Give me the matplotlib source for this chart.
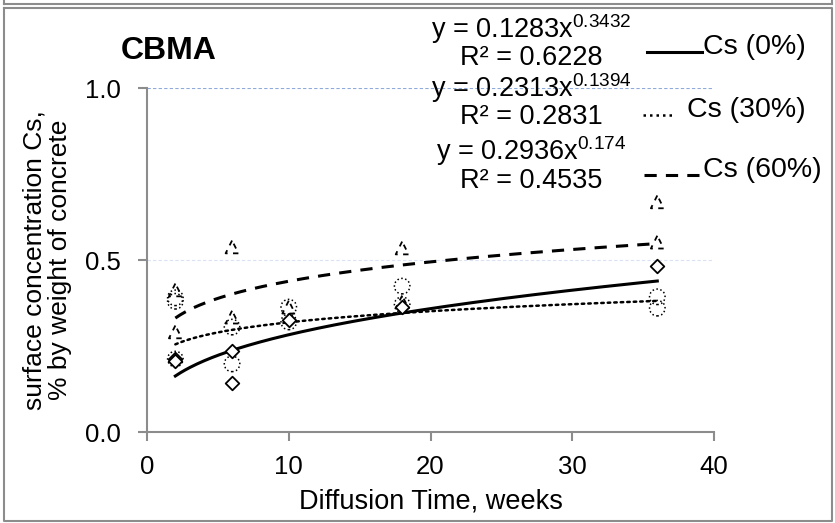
import numpy as np
import matplotlib
matplotlib.use("Agg")
import matplotlib.pyplot as plt
from matplotlib.lines import Line2D

plt.rcParams['font.family'] = ['Liberation Sans', 'DejaVu Sans']
plt.rcParams['mathtext.fontset'] = 'custom'
plt.rcParams['mathtext.rm'] = 'Liberation Sans'
plt.rcParams['mathtext.it'] = 'Liberation Sans'

# Measured surface concentrations (% by weight of concrete) vs diffusion time (weeks)
time_0 = [2, 2, 6, 6, 10, 18, 36]
cs_0 = [0.212, 0.205, 0.236, 0.142, 0.326, 0.363, 0.483]

time_30 = [2, 2, 2, 6, 6, 10, 10, 18, 18, 36, 36]
cs_30 = [0.39, 0.38, 0.212, 0.305, 0.198, 0.363, 0.32, 0.424, 0.37, 0.393, 0.36]

time_60 = [2, 2, 6, 6, 10, 18, 18, 36, 36]
cs_60 = [0.413, 0.291, 0.538, 0.334, 0.363, 0.535, 0.378, 0.669, 0.552]

# Power-law trendlines y = a * x^b
fit_a = [0.1283, 0.2313, 0.2936]
fit_b = [0.3432, 0.1394, 0.174]
fit_r2 = [0.6228, 0.2831, 0.4535]
series_names = ['Cs (0%)', 'Cs (30%)', 'Cs (60%)']

x_ticks = [0, 10, 20, 30, 40]
y_ticks = [0.0, 0.5, 1.0]

W, H = 835, 523
fig = plt.figure(figsize=(W / 100, H / 100), dpi=100)


def fx(px):
    return px / W


def fy(py):
    return 1 - py / H


ax = fig.add_axes([fx(147), fy(432), fx(714) - fx(147), fy(88) - fy(432)])
ax.set_xlim(0, 40)
ax.set_ylim(0, 1.0)
ax.set_xticks(x_ticks)
ax.set_yticks(y_ticks)
ax.set_xticklabels([str(v) for v in x_ticks])
ax.set_yticklabels([f'{v:.1f}' for v in y_ticks])

grey = '#8c8c8c'
for side in ('top', 'right'):
    ax.spines[side].set_visible(False)
for side in ('left', 'bottom'):
    ax.spines[side].set_color(grey)
    ax.spines[side].set_linewidth(1.5)
ax.tick_params(axis='both', direction='out', length=6.5, width=1.5, color=grey,
               labelsize=18.5, labelcolor='black')
ax.tick_params(axis='y', pad=12)
ax.tick_params(axis='x', pad=10)

ax.yaxis.grid(True, linestyle=(0, (3, 2)), linewidth=0.8)
ax.set_axisbelow(True)
grid_cols = ['none', '#d9e1f2', '#8eaadb']
for gl, c in zip(ax.get_ygridlines(), grid_cols):
    gl.set_color(c)

ax.set_xlabel('Diffusion Time, weeks', fontsize=19.5, labelpad=7)

# Trendlines
line_styles = ['-', (0, (1, 1.6)), (0, (4, 3))]
line_widths = [2.2, 1.8, 2.2]
xx = np.linspace(2, 36, 200)
for a, b, ls, lw in zip(fit_a, fit_b, line_styles, line_widths):
    ax.plot(xx, a * xx ** b, color='black', linestyle=ls, linewidth=lw,
            dash_capstyle='round' if lw < 2 else 'butt', zorder=3)

# Data points
ax.scatter(time_0, cs_0, marker='D', s=48, facecolors='white',
           edgecolors='black', linewidths=1.3, zorder=5)
ax.scatter(time_30, cs_30, marker='o', s=125, facecolors='none',
           edgecolors='black', linewidths=1.1, linestyles=(0, (1, 1.6)), zorder=4)
ax.scatter(time_60, cs_60, marker='^', s=85, facecolors='none',
           edgecolors='black', linewidths=1.3, linestyles=(0, (3, 3)), zorder=4)

# Title
fig.text(fx(121), fy(51), 'CBMA', fontsize=23, fontweight='bold',
         ha='left', va='center')

# Y-axis label
fig.text(fx(47), fy(260), 'surface concentration Cs,\n% by weight of concrete',
         rotation=90, fontsize=19, ha='center', va='center',
         multialignment='center', linespacing=1.1)

# Trendline equations
eq_y = [(29, 58), (88, 117), (151, 181)]
for a, b, r2, (y1, y2) in zip(fit_a, fit_b, fit_r2, eq_y):
    fig.text(fx(531), fy(y1), f'y = {a}x$^{{\\mathregular{{{b}}}}}$', fontsize=19.5,
             ha='center', va='center')
    fig.text(fx(531), fy(y2), f'R² = {r2}', fontsize=19.5,
             ha='center', va='center')

# Legend entries
leg_rows = [(47, 647, 702, 703), (110, 643, 673, 687), (170, 644, 702, 703)]
for (yc, x0, x1, xt), ls, lw, name in zip(leg_rows, line_styles, line_widths, series_names):
    fig.add_artist(Line2D([fx(x0), fx(x1)], [fy(yc + 5), fy(yc + 5)],
                          transform=fig.transFigure, color='black',
                          linestyle=ls, linewidth=lw))
    fig.text(fx(xt), fy(yc), name, fontsize=20.5, ha='left', va='center')

# Outer frame
fc = '#8c8c8c'
fig.add_artist(Line2D([fx(4), fx(832)], [fy(4), fy(4)], transform=fig.transFigure,
                      color=fc, linewidth=1.5))
for xv in (4, 832):
    fig.add_artist(Line2D([fx(xv), fx(xv)], [fy(0), fy(4)], transform=fig.transFigure,
                          color=fc, linewidth=1.5))
fig.add_artist(Line2D([fx(4), fx(832), fx(832), fx(4), fx(4)],
                      [fy(8), fy(8), fy(521), fy(521), fy(8)],
                      transform=fig.transFigure, color=fc, linewidth=1.5))

fig.savefig('out.png', dpi=100)
